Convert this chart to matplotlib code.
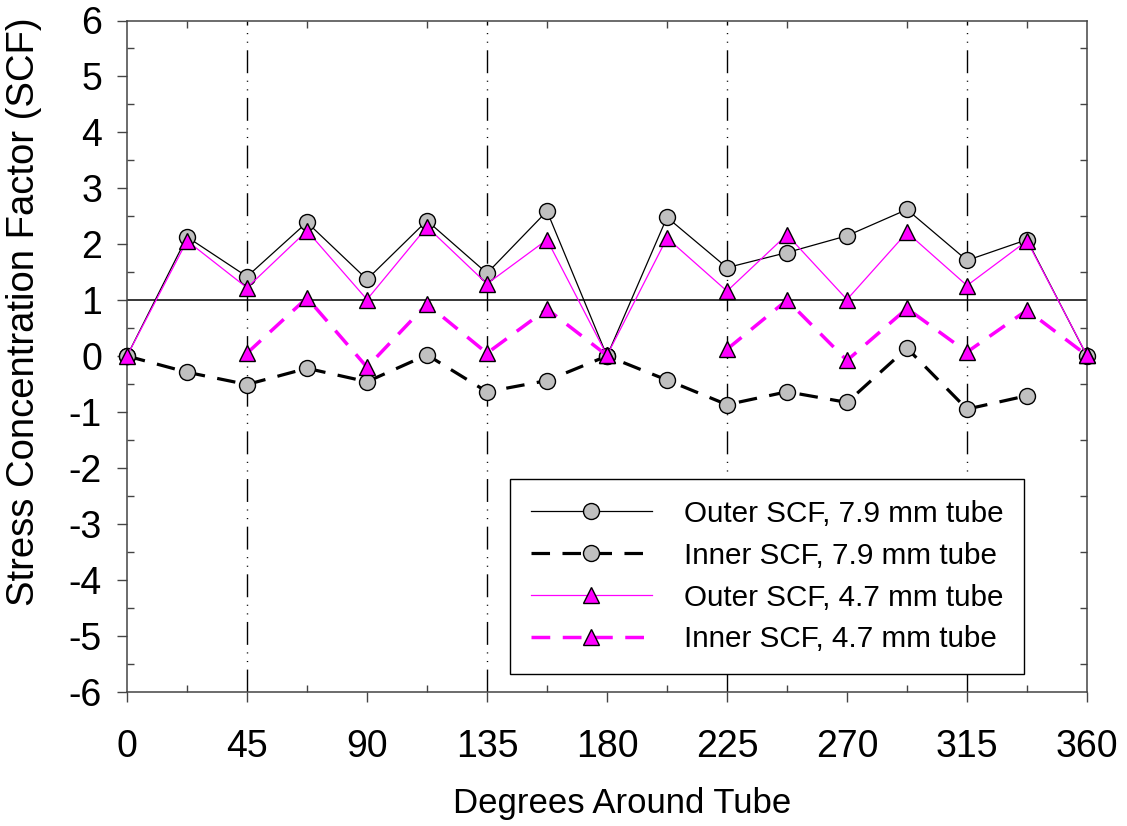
import numpy as np
import matplotlib
matplotlib.use("Agg")
import matplotlib.pyplot as plt
from matplotlib.ticker import MultipleLocator

plt.rcParams['font.family'] = ['Liberation Sans', 'DejaVu Sans']
plt.rcParams['axes.unicode_minus'] = False

# Angular positions around the tube (degrees)
degrees = [0, 22.5, 45, 67.5, 90, 112.5, 135, 157.5, 180,
           202.5, 225, 247.5, 270, 292.5, 315, 337.5, 360]

outer_79 = [0.00, 2.13, 1.42, 2.39, 1.37, 2.42, 1.48, 2.59, 0.00,
            2.48, 1.58, 1.85, 2.15, 2.62, 1.71, 2.08, 0.00]
inner_79 = [0.00, -0.29, -0.51, -0.22, -0.46, 0.02, -0.64, -0.44, 0.00,
            -0.43, -0.87, -0.64, -0.83, 0.14, -0.95, -0.71, np.nan]
outer_47 = [0.00, 2.06, 1.22, 2.24, 1.01, 2.31, 1.29, 2.08, 0.01,
            2.11, 1.16, 2.17, 1.01, 2.21, 1.26, 2.06, 0.01]
inner_47 = [np.nan, np.nan, 0.05, 1.04, -0.20, 0.93, 0.05, 0.84, 0.01,
            np.nan, 0.12, 1.00, -0.08, 0.85, 0.07, 0.82, 0.01]

x_ticks = [0, 45, 90, 135, 180, 225, 270, 315, 360]
y_ticks = list(range(-6, 7))
ref_angles = [45, 135, 225, 315]

fig = plt.figure(figsize=(11.27, 8.26), dpi=100)
ax = fig.add_axes([127 / 1127, 1 - 691.5 / 826, (1087 - 127) / 1127, (691.5 - 20.5) / 826])

# reference lines
for a in ref_angles:
    ax.axvline(a, color='black', lw=1.0,
               linestyle=(0, (16.5, 5.4, 0.8, 5.4, 0.8, 5.4)), zorder=1)
ax.axhline(1, color='black', lw=1.1, zorder=1)

ms = 11.5
ax.plot(degrees, outer_79, color='black', lw=0.9, marker='o', ms=ms,
        mfc='#c0c0c0', mec='black', mew=1.0, clip_on=False, zorder=3,
        label='Outer SCF, 7.9 mm tube')
ax.plot(degrees, inner_79, color='black', lw=2.3, linestyle=(0, (5.8, 3.9)),
        marker='o', ms=ms, mfc='#c0c0c0', mec='black', mew=1.0,
        clip_on=False, zorder=3, label='Inner SCF, 7.9 mm tube')
ax.plot(degrees, outer_47, color='#ff00ff', lw=0.9, marker='^', ms=ms,
        mfc='#ff00ff', mec='black', mew=1.0, clip_on=False, zorder=4,
        label='Outer SCF, 4.7 mm tube')
ax.plot(degrees, inner_47, color='#ff00ff', lw=2.5, linestyle=(0, (5.4, 3.6)),
        marker='^', ms=ms, mfc='#ff00ff', mec='black', mew=1.0,
        clip_on=False, zorder=4, label='Inner SCF, 4.7 mm tube')

ax.set_xlim(0, 360)
ax.set_ylim(-6, 6)
ax.set_xticks(x_ticks)
ax.set_yticks(y_ticks)
ax.xaxis.set_minor_locator(MultipleLocator(22.5))
ax.yaxis.set_minor_locator(MultipleLocator(0.5))

spine_c = '#444444'
for s in ax.spines.values():
    s.set_color(spine_c)
    s.set_linewidth(1.1)

ax.tick_params(which='major', direction='out', length=7, width=1.0,
               color=spine_c, labelsize=27, top=False, right=False)
ax.tick_params(axis='x', which='major', pad=20)
ax.tick_params(axis='y', which='major', pad=11)
ax.tick_params(which='minor', direction='in', length=5, width=1.0,
               color=spine_c, top=True, right=True)

ax.set_xlabel('Degrees Around Tube', fontsize=25)
ax.set_ylabel('Stress Concentration Factor (SCF)', fontsize=27.5)
ax.xaxis.set_label_coords(0.516, -0.142)
ax.yaxis.set_label_coords(-0.089, 0.566)

leg = ax.legend(loc='upper left', bbox_to_anchor=(510 / 1127, 1 - 479 / 826),
                bbox_transform=fig.transFigure, borderaxespad=0,
                fontsize=21.3, numpoints=1, handlelength=4.1,
                handletextpad=1.08, labelspacing=0.47, borderpad=0.7,
                fancybox=False, framealpha=1, edgecolor='black')
leg.get_frame().set_linewidth(1.0)

fig.savefig('out.png', dpi=100)
